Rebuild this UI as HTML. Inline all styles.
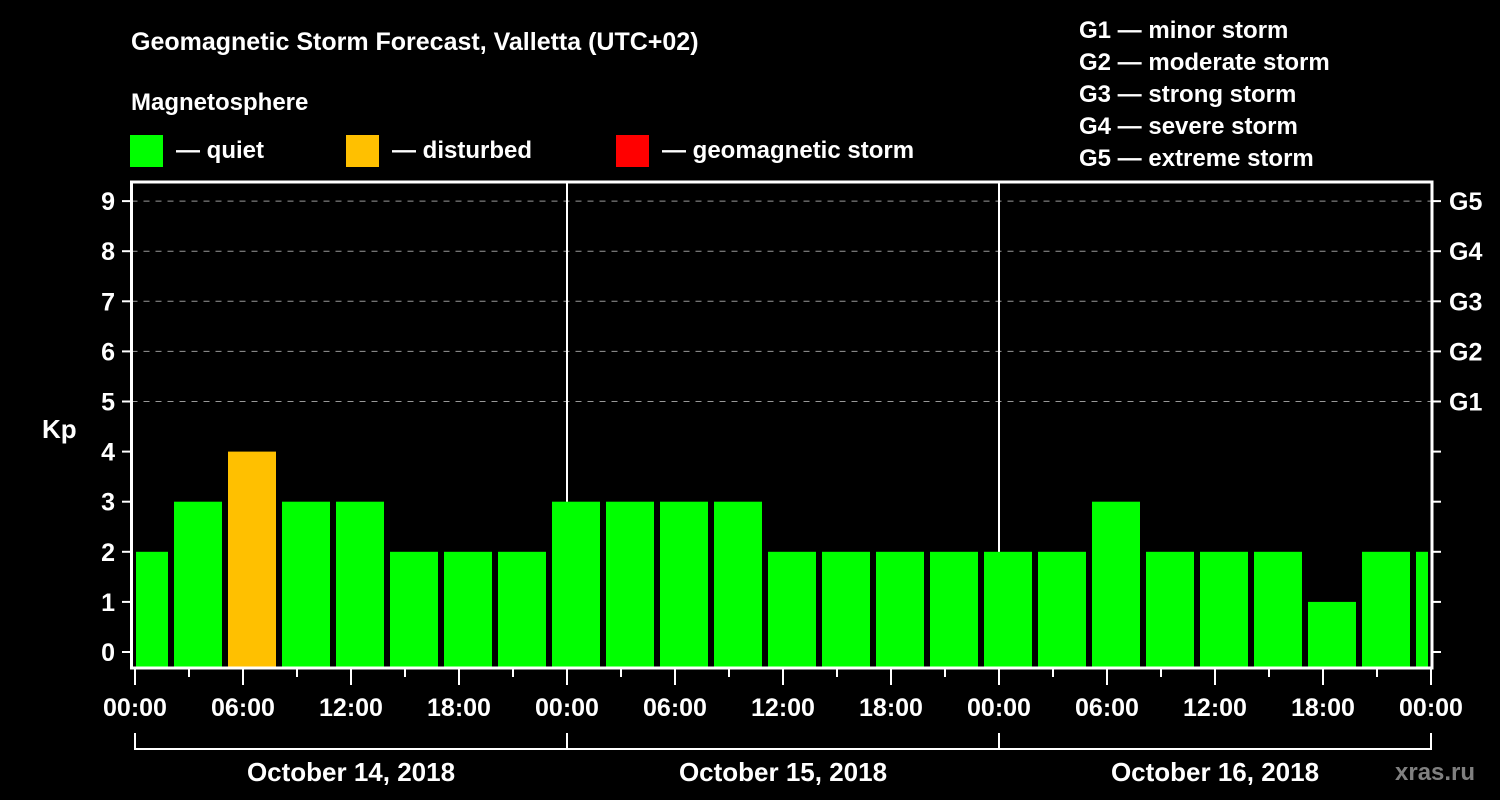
<!DOCTYPE html>
<html><head><meta charset="utf-8"><style>
html,body{margin:0;padding:0;background:#000;}
svg{display:block;}
text{font-family:"Liberation Sans",Arial,sans-serif;font-weight:bold;fill:#fff;}
</style></head><body>
<svg id="chart" width="1500" height="800" viewBox="0 0 1500 800">
<text x="131" y="50" font-size="25">Geomagnetic Storm Forecast, Valletta (UTC+02)</text>
<text x="131" y="110" font-size="24">Magnetosphere</text>
<g><rect x="130" y="135" width="33" height="32" fill="#00ff00"/><text x="176" y="158" font-size="24">— quiet</text></g>
<g><rect x="346" y="135" width="33" height="32" fill="#ffc000"/><text x="392" y="158" font-size="24">— disturbed</text></g>
<g><rect x="616" y="135" width="33" height="32" fill="#ff0000"/><text x="662" y="158" font-size="24">— geomagnetic storm</text></g>
<g font-size="24">
<text x="1079" y="38">G1 — minor storm</text>
<text x="1079" y="70">G2 — moderate storm</text>
<text x="1079" y="102">G3 — strong storm</text>
<text x="1079" y="134">G4 — severe storm</text>
<text x="1079" y="166">G5 — extreme storm</text>
</g>
<g id="grid"></g>
<g id="bars"></g>
<g id="axes"></g>
<text x="42" y="438" font-size="26">Kp</text>
<text x="1395" y="780" font-size="24" style="fill:#808080">xras.ru</text>
</svg>
<script>
const kpValues=[2,3,4,3,3,2,2,2,3,3,3,3,2,2,2,2,2,2,3,2,2,2,1,2,2];
const yTicks=[0,1,2,3,4,5,6,7,8,9];
const gLabels=["G1","G2","G3","G4","G5"];
const gLevels=[5,6,7,8,9];
const xLabels=["00:00","06:00","12:00","18:00","00:00","06:00","12:00","18:00","00:00","06:00","12:00","18:00","00:00"];
const days=["October 14, 2018","October 15, 2018","October 16, 2018"];
const NS="http://www.w3.org/2000/svg";
const L=131.5,R=1432,T=182,B=668,X0=135,PXH=18;
const y=v=>652-v*50.1;
const x=h=>X0+h*PXH;
function mk(tag,attrs,parent,txt){const e=document.createElementNS(NS,tag);for(const k in attrs)e.setAttribute(k,attrs[k]);if(txt!==undefined)e.textContent=txt;parent.appendChild(e);return e;}
const grid=document.getElementById('grid'),bars=document.getElementById('bars'),axes=document.getElementById('axes');
yTicks.forEach(v=>{if(v>=5){const l=mk('line',{x1:L,x2:R,y1:y(v),y2:y(v),stroke:'#999','stroke-dasharray':'6,6','stroke-width':1},grid);

}});
[1,2].forEach(d=>{const l=mk('line',{x1:x(24*d),x2:x(24*d),y1:T,y2:B,stroke:'#fff','stroke-width':2},grid);

});
kpValues.forEach((v,i)=>{let s=x(-0.8333+3*i),e=s+48;s=Math.max(s,136);e=Math.min(e,1428);
const r=mk('rect',{x:s,y:y(v),width:e-s,height:B-y(v),fill:v>=5?'#ff0000':(v>=4?'#ffc000':'#00ff00')},bars);

});
mk('rect',{x:L,y:T,width:R-L,height:B-T,fill:'none',stroke:'#fff','stroke-width':3},axes);
yTicks.forEach(v=>{mk('line',{x1:122,x2:L,y1:y(v),y2:y(v),stroke:'#fff','stroke-width':2},axes);
mk('line',{x1:R,x2:1441,y1:y(v),y2:y(v),stroke:'#fff','stroke-width':2},axes);
const t=mk('text',{x:115,y:y(v)+9,'font-size':25,'text-anchor':'end'},axes,String(v));

});
gLabels.forEach((g,i)=>{const t=mk('text',{x:1449,y:y(gLevels[i])+9,'font-size':25},axes,g);

});
for(let h=0;h<=72;h+=3){mk('line',{x1:x(h),x2:x(h),y1:B,y2:B+(h%6===0?17:9),stroke:'#fff','stroke-width':2},axes);}
xLabels.forEach((s,i)=>{const t=mk('text',{x:x(6*i),y:716,'font-size':25,'text-anchor':'middle'},axes,s);

});
mk('path',{d:`M${x(0)} 733V749H${x(72)}V733`,fill:'none',stroke:'#fff','stroke-width':2},axes);
[1,2].forEach(d=>mk('line',{x1:x(24*d),x2:x(24*d),y1:733,y2:749,stroke:'#fff','stroke-width':2},axes));
days.forEach((s,i)=>{const t=mk('text',{x:x(24*i+12),y:781,'font-size':26,'text-anchor':'middle'},axes,s);

});
</script>
</body></html>
